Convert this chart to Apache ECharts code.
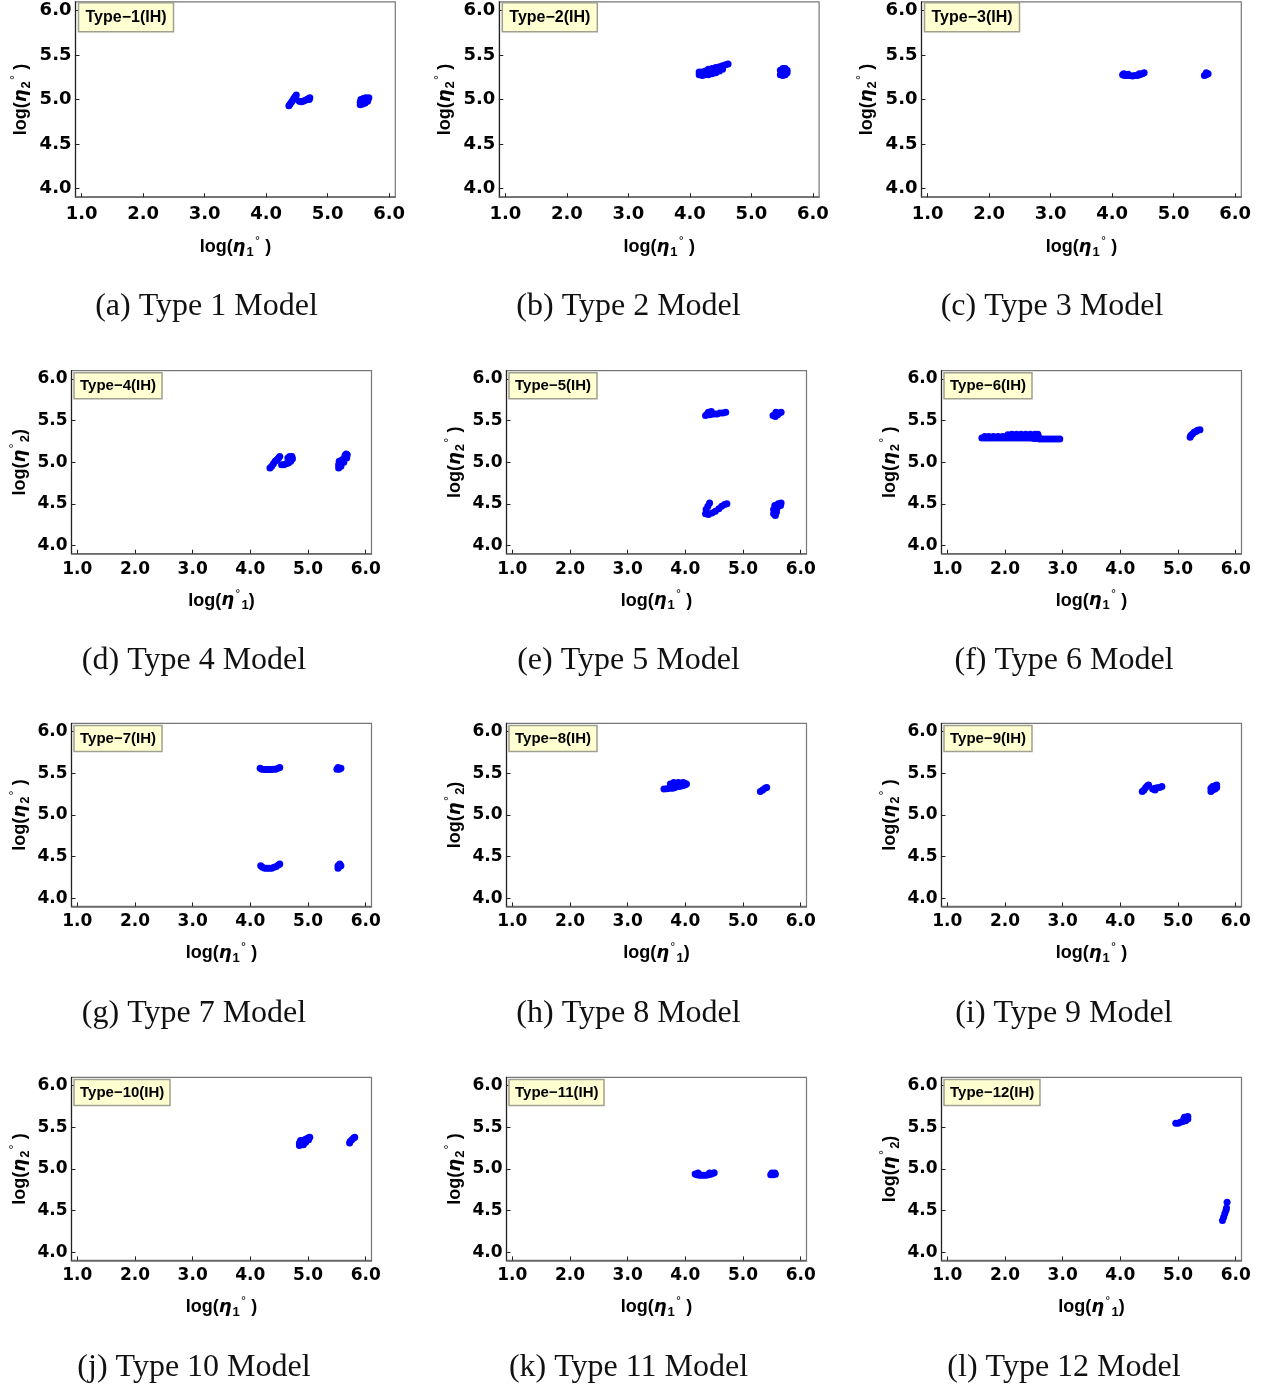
<!DOCTYPE html>
<html>
<head>
<meta charset="utf-8">
<script src="https://cdn.jsdelivr.net/npm/echarts@6/dist/echarts.min.js"></script>
<style>html,body{margin:0;padding:0;background:#fff;}#c{width:1266px;height:1390px;}</style>
</head>
<body>
<div id="c"></div>
<script>
// ---------------- data ----------------
const xTicks = [1.0, 2.0, 3.0, 4.0, 5.0, 6.0];
const yTicks = [4.0, 4.5, 5.0, 5.5, 6.0];
const panelLabels = ['Type\u22121(IH)','Type\u22122(IH)','Type\u22123(IH)','Type\u22124(IH)','Type\u22125(IH)','Type\u22126(IH)',
                     'Type\u22127(IH)','Type\u22128(IH)','Type\u22129(IH)','Type\u221210(IH)','Type\u221211(IH)','Type\u221212(IH)'];
const captions = ['(a) Type 1 Model','(b) Type 2 Model','(c) Type 3 Model','(d) Type 4 Model','(e) Type 5 Model','(f) Type 6 Model',
                  '(g) Type 7 Model','(h) Type 8 Model','(i) Type 9 Model','(j) Type 10 Model','(k) Type 11 Model','(l) Type 12 Model'];
// 'a' = log(eta_1 deg) style, 'b' = log(eta deg _1) style
const titleStyle = ['a','a','a','b','a','a','a','b','a','a','a','b'];

const type1 = [[4.37,4.93],[4.39,4.95],[4.41,4.97],[4.43,4.99],[4.45,5.01],[4.47,5.03],[4.49,5.05],
  [4.54,4.98],[4.57,4.975],[4.60,4.98],[4.63,4.99],[4.66,5.00],[4.69,5.01],[4.71,5.02],[4.70,5.00],
  [5.53,4.94],[5.53,4.97],[5.54,5.00],[5.57,4.95],[5.57,4.98],[5.58,5.01],[5.61,4.96],[5.61,4.99],[5.62,5.02],[5.65,4.98],[5.66,5.01],[5.67,5.02]];
const type2 = [[4.15,5.28],[4.15,5.31],[4.20,5.27],[4.20,5.31],[4.25,5.28],[4.25,5.32],[4.30,5.28],[4.30,5.34],[4.36,5.29],[4.36,5.35],
  [4.42,5.30],[4.42,5.36],[4.48,5.32],[4.48,5.37],[4.53,5.34],[4.53,5.38],[4.58,5.39],[4.62,5.40],
  [5.47,5.28],[5.47,5.33],[5.51,5.27],[5.51,5.31],[5.51,5.35],[5.55,5.28],[5.55,5.32],[5.55,5.35],[5.58,5.30],[5.58,5.33]];
const type3 = [[4.17,5.28],[4.20,5.27],[4.24,5.27],[4.28,5.27],[4.33,5.265],[4.37,5.27],[4.41,5.27],[4.45,5.28],[4.49,5.29],[4.52,5.30],
  [4.19,5.29],[4.26,5.285],[4.44,5.29],[5.50,5.27],[5.53,5.28],[5.56,5.29],[5.53,5.30]];
const type4 = [[4.34,4.93],[4.37,4.95],[4.40,4.98],[4.43,5.01],[4.46,5.03],[4.49,5.05],[4.51,5.07],
  [4.54,4.97],[4.58,4.97],[4.62,4.98],[4.66,4.99],[4.70,5.01],[4.73,5.04],[4.72,5.07],[4.68,5.07],[4.65,5.05],
  [5.53,4.93],[5.53,4.97],[5.54,5.01],[5.57,4.95],[5.58,4.99],[5.59,5.03],[5.62,5.00],[5.63,5.04],[5.64,5.08],[5.67,5.05],[5.68,5.09],[5.66,5.10]];
const type5 = [[4.35,5.56],[4.38,5.58],[4.42,5.57],[4.46,5.58],[4.50,5.58],[4.55,5.58],[4.60,5.59],[4.65,5.59],[4.70,5.60],[4.40,5.60],[4.45,5.61],
  [5.52,5.56],[5.56,5.55],[5.60,5.57],[5.63,5.59],[5.57,5.60],[5.66,5.60],
  [4.35,4.38],[4.36,4.43],[4.39,4.47],[4.42,4.51],[4.40,4.37],[4.46,4.39],[4.52,4.41],[4.58,4.44],[4.63,4.47],[4.68,4.49],[4.72,4.50],
  [5.53,4.38],[5.53,4.43],[5.55,4.48],[5.58,4.40],[5.59,4.45],[5.61,4.50],[5.65,4.48],[5.66,4.51],[5.56,4.36]];
const type6 = [[1.60,5.29],[1.65,5.29],[1.70,5.29],[1.75,5.29],[1.80,5.29],[1.85,5.29],[1.90,5.29],[1.95,5.29],[2.00,5.29],[2.05,5.29],
  [2.10,5.29],[2.15,5.29],[2.20,5.29],[2.25,5.29],[2.30,5.29],[2.35,5.29],[2.40,5.29],[2.45,5.29],[2.50,5.285],[2.55,5.285],
  [2.60,5.28],[2.65,5.28],[2.70,5.28],[2.75,5.28],[2.80,5.28],[2.85,5.28],[2.90,5.28],[2.95,5.28],
  [1.65,5.31],[1.72,5.31],[1.80,5.31],[1.88,5.31],[1.96,5.31],[2.04,5.315],[2.12,5.315],[2.20,5.315],[2.28,5.315],[2.36,5.315],[2.44,5.315],[2.52,5.31],[2.58,5.305],
  [2.05,5.33],[2.12,5.335],[2.20,5.335],[2.28,5.335],[2.36,5.335],[2.44,5.335],[2.52,5.335],[2.57,5.335],
  [5.21,5.30],[5.22,5.32],[5.25,5.34],[5.28,5.36],[5.31,5.37],[5.34,5.385],[5.38,5.39]];
const type7 = [[4.17,5.56],[4.20,5.55],[4.24,5.545],[4.28,5.545],[4.32,5.545],[4.36,5.545],[4.40,5.55],[4.44,5.55],[4.48,5.56],[4.51,5.57],
  [5.50,5.55],[5.54,5.55],[5.57,5.56],[5.52,5.57],
  [4.18,4.39],[4.21,4.37],[4.25,4.36],[4.29,4.36],[4.33,4.36],[4.37,4.36],[4.41,4.37],[4.45,4.38],[4.49,4.40],[4.51,4.41],
  [5.52,4.36],[5.54,4.38],[5.57,4.39],[5.55,4.41],[5.52,4.39]];
const type8 = [[3.63,5.31],[3.68,5.315],[3.73,5.32],[3.78,5.32],[3.78,5.36],[3.82,5.33],[3.82,5.37],[3.86,5.34],[3.86,5.38],[3.90,5.34],[3.90,5.38],
  [3.95,5.35],[3.95,5.38],[3.99,5.36],[3.99,5.38],[4.02,5.37],[3.74,5.37],[3.80,5.39],[3.88,5.39],[3.96,5.39],
  [5.30,5.28],[5.34,5.30],[5.38,5.32],[5.41,5.33]];
const type9 = [[4.38,5.28],[4.41,5.30],[4.44,5.33],[4.47,5.35],[4.49,5.36],
  [4.56,5.31],[4.60,5.32],[4.64,5.325],[4.68,5.33],[4.72,5.34],[4.60,5.30],
  [5.57,5.28],[5.57,5.32],[5.60,5.30],[5.60,5.34],[5.64,5.31],[5.64,5.35],[5.67,5.33],[5.67,5.36]];
const type10 = [[4.85,5.28],[4.85,5.31],[4.88,5.30],[4.87,5.34],[4.91,5.33],[4.94,5.35],[4.97,5.36],[5.00,5.37],[5.03,5.38],[4.92,5.29],[4.96,5.32],[5.01,5.35],
  [5.72,5.31],[5.73,5.33],[5.76,5.35],[5.79,5.37],[5.81,5.38]];
const type11 = [[4.17,4.94],[4.20,4.93],[4.24,4.925],[4.28,4.925],[4.32,4.925],[4.36,4.925],[4.40,4.93],[4.44,4.935],[4.47,4.945],[4.50,4.955],[4.22,4.95],[4.42,4.95],
  [5.48,4.93],[5.52,4.93],[5.56,4.935],[5.50,4.95],[5.55,4.95]];
const type12 = [[4.96,5.55],[5.00,5.55],[5.04,5.56],[5.08,5.57],[5.10,5.60],[5.13,5.58],[5.13,5.62],[5.17,5.60],[5.17,5.63],[5.11,5.62],
  [5.85,4.60],[5.77,4.38],[5.79,4.42],[5.81,4.46],[5.83,4.50],[5.84,4.53]];
const allData = [type1,type2,type3,type4,type5,type6,type7,type8,type9,type10,type11,type12];

// ---------------- layout ----------------
const row1 = {top:1.8, height:195.4, width:319.8, lefts:[75.5,499.3,921.5]};
const rowN = {tops:[370.7,723.4,1077.4], height:183, width:300, lefts:[71.5,506.5,941.5]};
const capY = [307, 661, 1014, 1368];
const capX1 = [206.5, 628.5, 1052];
const capXN = [194, 628.5, 1064];

function nameText(style, idx) {
  if (style === 'a') return '{n|log(}{e|\u03b7}{s|' + idx + '}{o|\u00b0}{n| )}';
  return '{n|log(}{e|\u03b7}{o|\u00b0}{s|' + idx + '}{n|)}';
}
function rich(fs) {
  return {
    n: {fontFamily:'Liberation Sans', fontWeight:'bold', fontSize:fs, color:'#000'},
    e: {fontFamily:'DejaVu Sans', fontStyle:'italic', fontWeight:'bold', fontSize:fs, color:'#000'},
    s: {fontFamily:'Liberation Sans', fontWeight:'bold', fontSize:Math.round(fs*0.7), color:'#000', padding:[10,0,0,1]},
    o: {fontFamily:'DejaVu Sans', fontSize:Math.round(fs*0.6), color:'#000', padding:[0,0,13,1]}
  };
}

const grids = [], xAxes = [], yAxes = [], series = [], titles = [], graphics = [];
for (let i = 0; i < 12; i++) {
  const r = Math.floor(i / 3), c = i % 3;
  let g;
  if (r === 0) g = {left: row1.lefts[c], top: row1.top, width: row1.width, height: row1.height};
  else g = {left: rowN.lefts[c], top: rowN.tops[r-1], width: rowN.width, height: rowN.height};
  const fs = r === 0 ? 18 : 17;
  grids.push(Object.assign({show:true, borderColor:'#777', borderWidth:1.2, backgroundColor:'#fff'}, g));
  xAxes.push({
    type:'value', gridIndex:i, min:0.9, max:6.1, position:'bottom',
    axisLine:{show:true, onZero:false, lineStyle:{color:'#666', width:1.5}},
    axisTick:{show:true, inside:true, length:4, customValues:xTicks, lineStyle:{color:'#222'}},
    axisLabel:{show:true, customValues:xTicks, margin:r===0?8:7, fontFamily:'DejaVu Sans', fontWeight:'bold', fontSize:fs, color:'#000',
      formatter:v=>v.toFixed(1)},
    splitLine:{show:false},
    name: nameText(titleStyle[i], 1), nameLocation:'middle', nameGap: r===0?38:35,
    nameTextStyle:{rich: rich(18)}
  });
  yAxes.push({
    type:'value', gridIndex:i, min:3.9, max:6.1,
    axisLine:{show:true, onZero:false, lineStyle:{color:'#222', width:1.2}},
    axisTick:{show:true, inside:true, length:4, customValues:yTicks, lineStyle:{color:'#222'}},
    axisLabel:{show:true, customValues:yTicks, margin:4, fontFamily:'DejaVu Sans', fontWeight:'bold', fontSize:fs, color:'#000',
      formatter:v=>v.toFixed(1)},
    splitLine:{show:false},
    name: nameText(titleStyle[i], 2), nameLocation:'middle', nameRotate:90, nameGap: r===0?42:39,
    nameTextStyle:{rich: rich(18)}
  });
  series.push({
    type:'scatter', xAxisIndex:i, yAxisIndex:i, data: allData[i],
    symbol:'circle', symbolSize:7, itemStyle:{color:'#0000ff', opacity:1},
    silent:true, animation:false
  });
  titles.push({
    text: panelLabels[i], left: g.left + (r===0?3:2.5), top: g.top + (r===0?1:2),
    backgroundColor:'#ffffd2', borderColor:'#a0a090', borderWidth:1.5,
    padding: r===0 ? [7,7,6,7] : [6,6,5,6],
    textStyle:{fontFamily:'Liberation Sans', fontWeight:'bold', fontSize: r===0?16:15, color:'#000'}
  });
  graphics.push({
    type:'text', x: r===0 ? capX1[c] : capXN[c], y: capY[r], silent:true,
    style:{text: captions[i], fill:'#111', font:'32px "Liberation Serif"', align:'center', verticalAlign:'middle'}
  });
}

const chart = echarts.init(document.getElementById('c'), null, {renderer:'canvas', width:1266, height:1390});
chart.setOption({
  animation:false,
  backgroundColor:'#fff',
  title: titles,
  grid: grids,
  xAxis: xAxes,
  yAxis: yAxes,
  series: series,
  graphic: graphics
});
</script>
</body>
</html>
